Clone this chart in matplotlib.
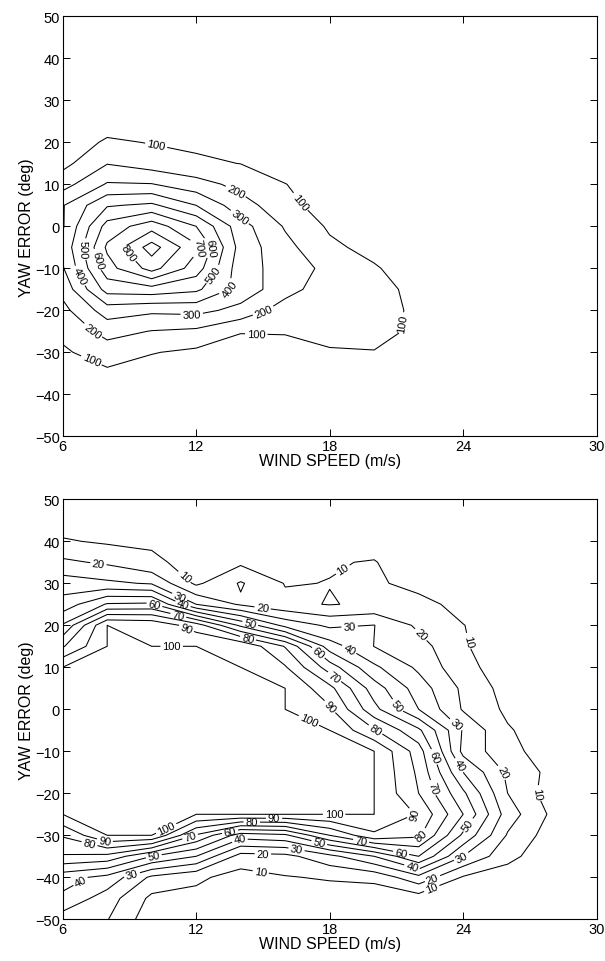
import numpy as np
import matplotlib
matplotlib.use("Agg")
import matplotlib.pyplot as plt

plt.rcParams['font.family'] = ['Liberation Sans', 'DejaVu Sans']

# grid coordinates
wind_speed = [6, 8, 10, 12, 14, 16, 18, 20, 22, 24, 26, 28, 30]
yaw_error = [50, 45, 40, 35, 30, 25, 20, 15, 10, 5, 0, -5, -10,
             -15, -20, -25, -30, -35, -40, -45, -50]

# occurrence counts (rows follow yaw_error, columns follow wind_speed)
counts = [
    [0, 0, 0, 0, 0, 0, 0, 0, 0, 0, 0, 0, 0],
    [0, 0, 0, 0, 0, 0, 0, 0, 0, 0, 0, 0, 0],
    [0, 0, 0, 0, 0, 0, 0, 0, 0, 0, 0, 0, 0],
    [0, 2, 3, 2, 1, 0, 0, 0, 0, 0, 0, 0, 0],
    [5, 15, 20, 15, 10, 5, 2, 0, 0, 0, 0, 0, 0],
    [15, 50, 60, 45, 30, 15, 5, 0, 0, 0, 0, 0, 0],
    [35, 115, 95, 80, 65, 40, 20, 5, 0, 0, 0, 0, 0],
    [70, 195, 150, 118, 98, 60, 30, 10, 0, 0, 0, 0, 0],
    [160, 310, 305, 240, 170, 102, 55, 20, 5, 0, 0, 0, 0],
    [293, 490, 520, 400, 240, 140, 40, 25, 10, 0, 0, 0, 0],
    [290, 640, 758, 600, 340, 190, 86, 50, 20, 5, 0, 0, 0],
    [320, 718, 945, 720, 360, 230, 120, 70, 30, 10, 0, 0, 0],
    [290, 660, 838, 650, 340, 260, 170, 110, 45, 15, 0, 0, 0],
    [230, 540, 560, 520, 360, 240, 140, 130, 75, 20, 0, 0, 0],
    [170, 350, 320, 330, 270, 150, 140, 120, 90, 25, 0, 0, 0],
    [125, 235, 196, 180, 105, 105, 150, 140, 75, 20, 0, 0, 0],
    [85, 150, 105, 80, 60, 75, 85, 95, 60, 15, 0, 0, 0],
    [50, 80, 55, 40, 30, 30, 35, 40, 25, 8, 0, 0, 0],
    [25, 40, 25, 20, 15, 15, 15, 15, 10, 4, 0, 0, 0],
    [10, 15, 10, 8, 5, 5, 5, 5, 4, 2, 0, 0, 0],
    [0, 0, 0, 0, 0, 0, 0, 0, 0, 0, 0, 0, 0],
]

# percentage of time (rows follow yaw_error, columns follow wind_speed)
percent = [
    [2, 2, 2, 2, 2, 2, 2, 2, 1, 0, 0, 0, 0],
    [5, 4, 5, 4, 4, 4, 4, 4, 2, 1, 0, 0, 0],
    [11, 8.6, 8.7, 6, 6, 5, 6, 6.3, 3, 2, 0, 0, 0],
    [22, 18.4, 11.7, 7, 8, 7, 9.4, 10.5, 4, 2, 1, 0, 0],
    [35, 32, 29, 8, 21, 9.5, 10.2, 12, 6, 3, 1, 0, 0],
    [44, 61, 62, 30, 18.6, 12.3, 9.5, 11.7, 14, 6, 2, 0, 0],
    [61, 100, 98, 85, 58, 37, 28, 30.2, 18, 10.3, 3, 1, 0],
    [79, 100, 100, 100, 99, 79.3, 45, 29.8, 24, 11, 4, 1, 0],
    [100, 100, 100, 100, 100, 91, 65, 42, 28, 13, 5, 2, 0],
    [100, 100, 100, 100, 100, 100, 83, 55, 35, 18, 6, 2, 0],
    [100, 100, 100, 100, 100, 100, 91.5, 63, 40, 19, 8, 3, 1],
    [100, 100, 100, 100, 100, 100, 100, 81, 62, 29, 11, 4, 1],
    [100, 100, 100, 100, 100, 100, 100, 100, 75, 27, 13, 5, 1],
    [100, 100, 100, 100, 100, 100, 100, 100, 78, 40, 18, 7, 2],
    [100, 100, 100, 100, 100, 100, 100, 100, 80, 52, 20, 5, 1],
    [100, 100, 100, 100, 100, 100, 100, 100, 89, 60, 25, 8, 2],
    [81, 100, 100, 69, 45, 48, 70, 88, 82, 48, 19, 5, 1],
    [69, 67, 50, 40, 16, 17, 27, 40, 60, 30, 13, 3, 1],
    [44, 37, 18, 12, 6, 9.4, 11, 13, 27, 9, 5, 2, 0],
    [38, 25, 7.7, 7, 4, 5, 5, 3, 5, 3, 2, 1, 0],
    [25, 20.5, 4, 4, 2, 3, 3, 2, 2, 1, 1, 0, 0],
]

count_levels = [100, 200, 300, 400, 500, 600, 700, 800, 900]
percent_levels = [10, 20, 30, 40, 50, 60, 70, 80, 90, 100]

# where the inline labels sit (data coordinates)
count_label_pos = {
    100: [(10.2, 19.2), (16.6, 5.5), (21.6, -23.3), (14.7, -25.7), (7.3, -31.8)],
    200: [(13.7, 7.4), (15.0, -19.9), (7.4, -24.6)],
    300: [(13.9, 1.8), (11.8, -21.4)],
    400: [(6.55, -12.4), (13.8, -15.4)],
    500: [(6.6, -5.8), (13.3, -13.6)],
    600: [(7.2, -8.5), (13.2, -5.7)],
    700: [(12.3, -4.9)],
    800: [(8.4, -8.9)],
}
percent_label_pos = {
    10: [(11.5, 31.7), (18.6, 33.2), (23.9, 15.9), (27.2, -19.9), (22.6, -42.8), (14.9, -38.8)],
    20: [(7.6, 34.4), (15.0, 24.7), (22.2, 18.3), (26.0, -14.0), (22.6, -40.0), (15.0, -34.1)],
    30: [(11.3, 27.3), (18.9, 19.4), (23.3, -5.7), (24.0, -36.1), (16.5, -33.7), (9.1, -39.1)],
    40: [(11.4, 25.0), (18.75, 13.1), (23.6, -14.0), (21.7, -37.6), (13.9, -30.2), (6.7, -40.0)],
    50: [(14.4, 19.8), (21.4, 2.1), (24.6, -29.0), (17.5, -32.5), (10.1, -35.1)],
    60: [(10.1, 24.6), (17.5, 13.5), (22.6, -11.5), (21.2, -34.5), (13.5, -28.6)],
    70: [(11.1, 20.2), (18.2, 7.6), (22.4, -19.1), (19.4, -31.7), (11.7, -29.8)],
    80: [(14.3, 16.3), (19.9, -6.5), (22.3, -31.3), (14.5, -26.6), (7.2, -32.1)],
    90: [(11.4, 17.1), (18.0, 0.6), (22.1, -27.4), (15.5, -25.7), (7.9, -31.3)],
    100: [(10.9, 15.1), (17.0, -3.4), (18.2, -24.6), (10.6, -27.8)],
}

X, Y = np.meshgrid(wind_speed, yaw_error)


def label_fmt(v):
    return f"{int(round(v))}"


def draw_panel(ax, values, levels, label_pos):
    Z = np.asarray(values, dtype=float)
    for lev in levels:
        # a hair below the level so plateaus sitting exactly on it are outlined
        cs = ax.contour(X, Y, Z, levels=[lev - 1e-6], colors='k',
                        linewidths=0.75)
        pos = label_pos.get(lev)
        if pos:
            ax.clabel(cs, manual=pos, fmt=label_fmt, fontsize=8,
                      inline=True, inline_spacing=2)
    ax.set_xlim(6, 30)
    ax.set_ylim(-50, 50)
    ax.set_xticks([6, 12, 18, 24, 30])
    ax.set_yticks([-50, -40, -30, -20, -10, 0, 10, 20, 30, 40, 50])
    ax.tick_params(direction='in', top=True, right=True, length=5,
                   width=0.7, labelsize=10.5, pad=2)
    for sp in ax.spines.values():
        sp.set_linewidth(0.8)
    ax.set_xlabel('WIND SPEED (m/s)', fontsize=11.5, labelpad=0)
    ax.set_ylabel('YAW ERROR (deg)', fontsize=11.5, labelpad=1)


fig = plt.figure(figsize=(6.05, 9.62), dpi=100)
ax_top = fig.add_axes([0.1036, 0.5454, 0.8826, 0.4366])
ax_bot = fig.add_axes([0.1036, 0.04335, 0.8826, 0.4366])

draw_panel(ax_top, counts, count_levels, count_label_pos)
draw_panel(ax_bot, percent, percent_levels, percent_label_pos)

fig.savefig('out.png', dpi=100)
